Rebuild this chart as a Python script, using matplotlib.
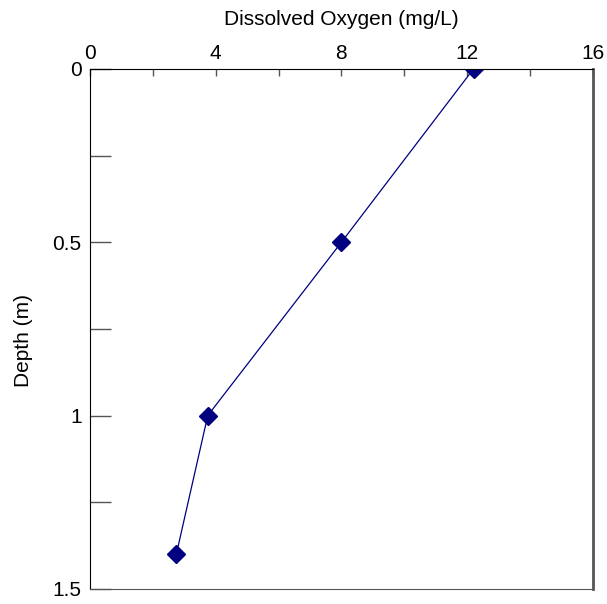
import matplotlib.pyplot as plt
from matplotlib.ticker import MultipleLocator

# Dissolved oxygen profile
depth = [0, 0.5, 1.0, 1.4]
oxygen = [12.2, 8.0, 3.75, 2.75]

x_ticks = [0, 4, 8, 12, 16]
y_ticks = [0, 0.5, 1, 1.5]

plt.rcParams['font.family'] = ['Liberation Sans', 'DejaVu Sans']

fig = plt.figure(figsize=(6.07, 6.04), dpi=100)
ax = fig.add_axes([0.148, 0.025, 0.829, 0.861])

ax.plot(oxygen, depth, color='#000080', linewidth=0.9, marker='D',
        markersize=9, markerfacecolor='#000080', markeredgecolor='#000080')

ax.set_xlim(0, 16)
ax.set_ylim(1.5, 0)
ax.xaxis.tick_top()
ax.xaxis.set_label_position('top')
ax.set_xticks(x_ticks)
ax.set_yticks(y_ticks)
ax.set_yticklabels(['0', '0.5', '1', '1.5'])
ax.xaxis.set_minor_locator(MultipleLocator(2))
ax.yaxis.set_minor_locator(MultipleLocator(0.25))

ax.tick_params(axis='x', which='both', direction='in', length=5, width=1,
               color='#555555', labelsize=15, pad=4)
ax.tick_params(axis='y', which='both', direction='in', length=15, width=1,
               color='#555555', labelsize=15, pad=6)

ax.set_xlabel('Dissolved Oxygen (mg/L)', fontsize=15, labelpad=14)
ax.set_ylabel('Depth (m)', fontsize=15)
ax.yaxis.set_label_coords(-0.113, 0.477)

ax.spines['left'].set_color('black')
ax.spines['top'].set_color('black')
ax.spines['right'].set_color('#555555')
ax.spines['right'].set_linewidth(2)
ax.spines['bottom'].set_color('#555555')

fig.savefig('out.png', dpi=100)
